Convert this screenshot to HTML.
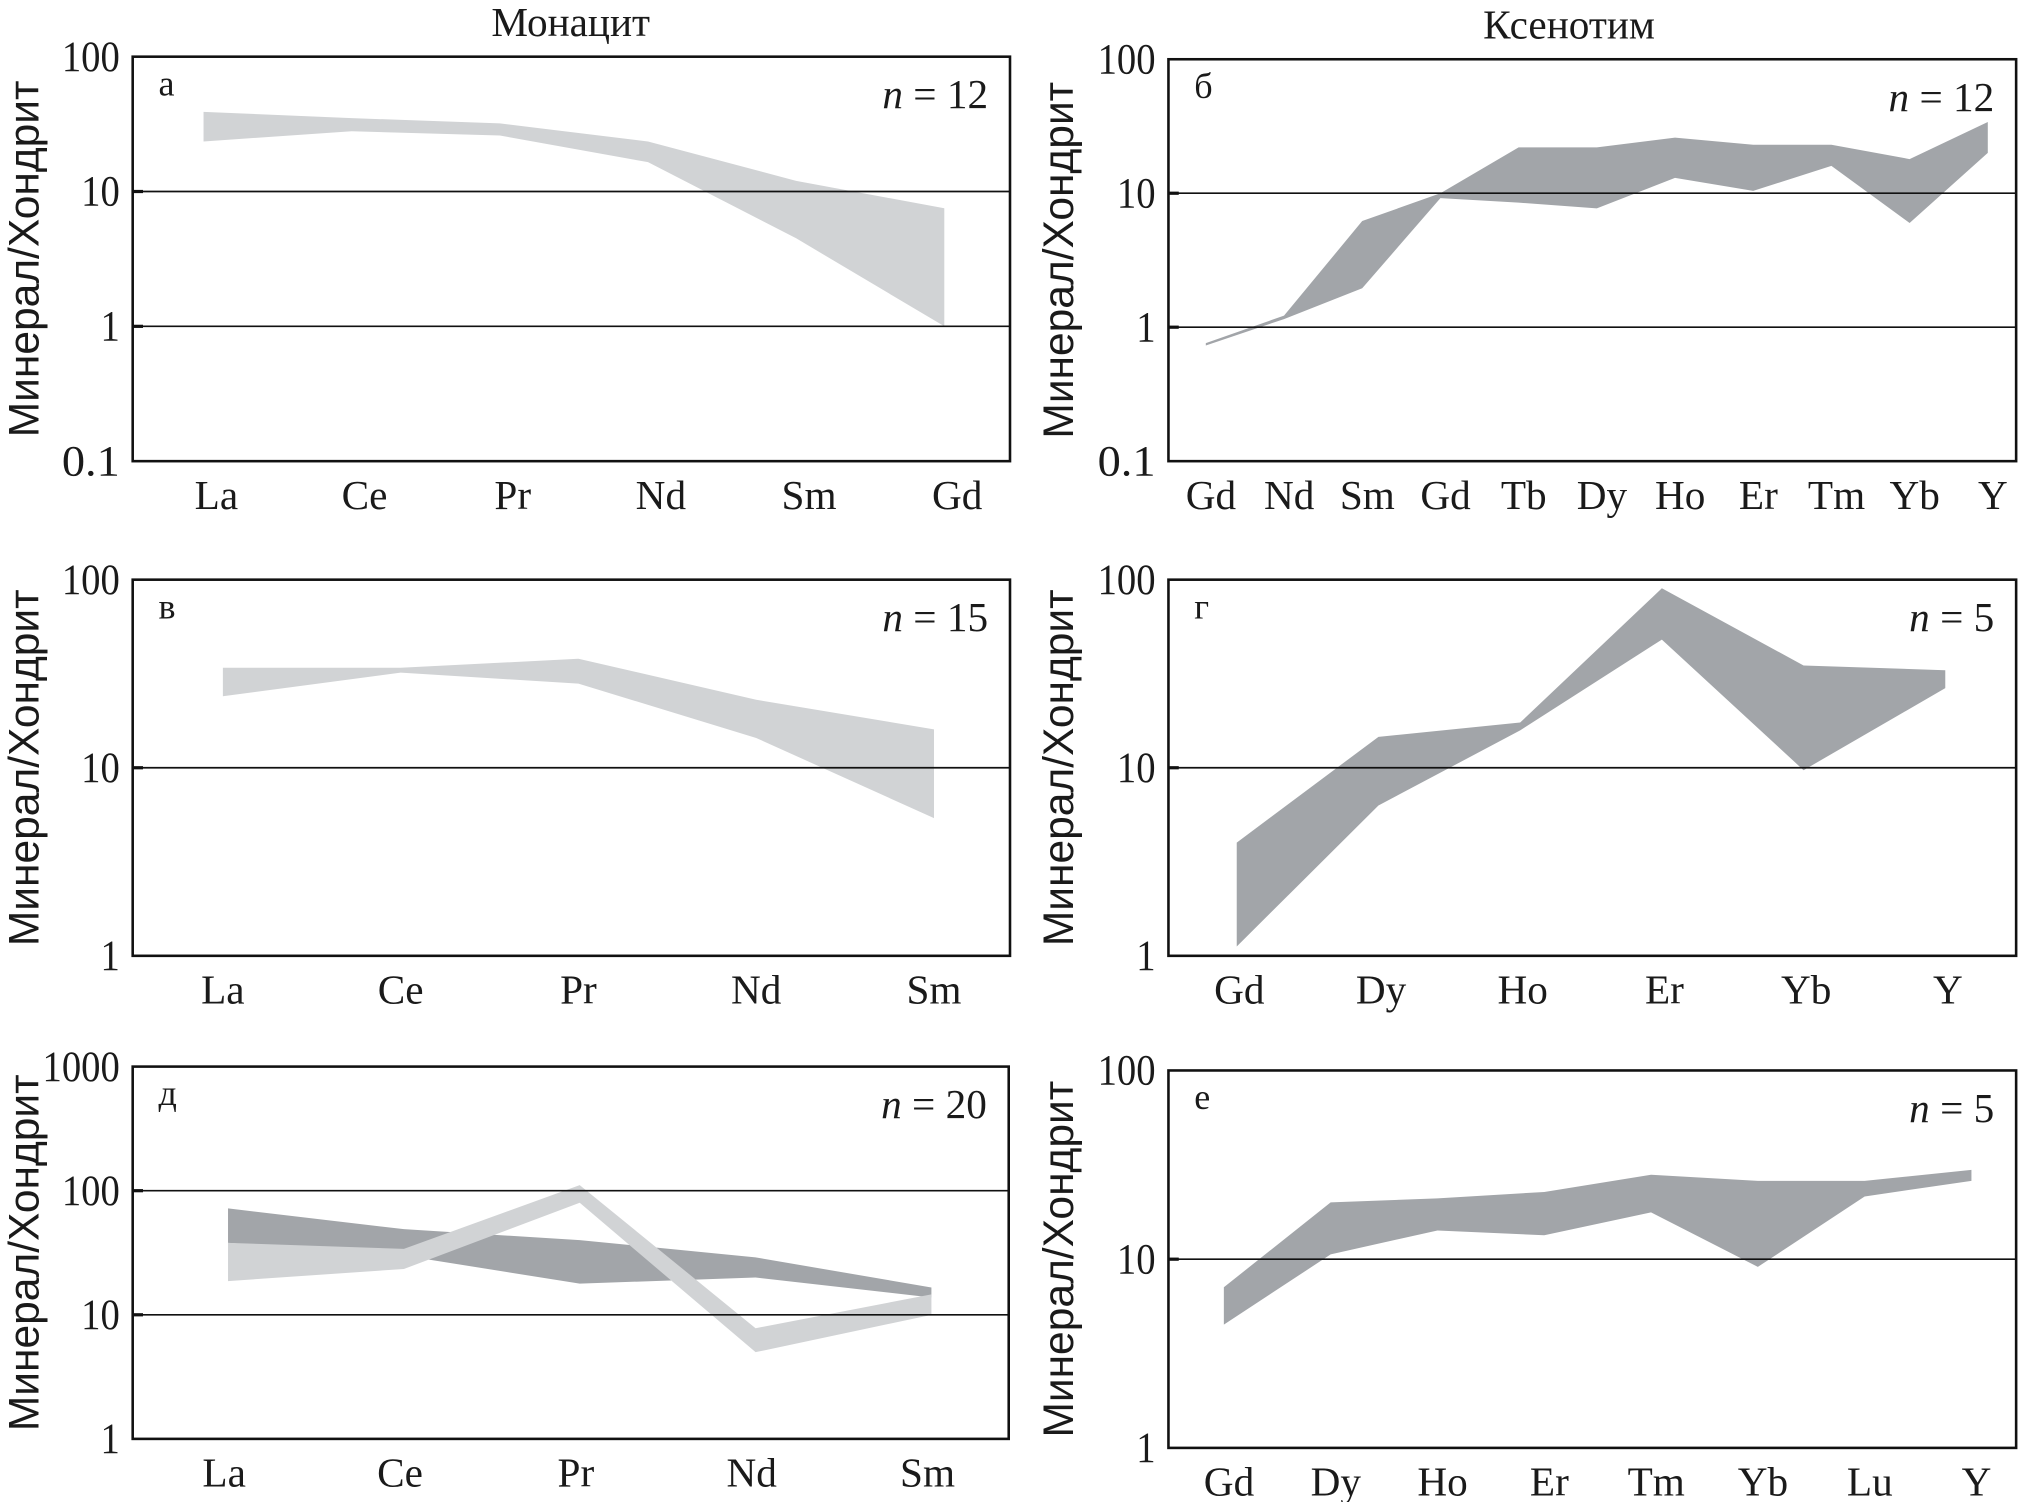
<!DOCTYPE html>
<html><head><meta charset="utf-8">
<style>
html,body{margin:0;padding:0;background:#fff;}
svg{display:block;}
text{font-family:"Liberation Serif","DejaVu Serif",serif;fill:#1a1a1a;}
.ytitle{font-family:"Liberation Sans","DejaVu Sans",sans-serif;}
</style></head>
<body>
<svg id="chart" width="2020" height="1502" viewBox="0 0 1568 1166" preserveAspectRatio="none" xmlns="http://www.w3.org/2000/svg">
<text x="443" y="28" font-size="32" text-anchor="middle">Монацит</text>
<text x="1218" y="30" font-size="32" text-anchor="middle">Ксенотим</text>
</svg>
<script>
// Panel а (monazite)
const catsA = ["La","Ce","Pr","Nd","Sm","Gd"];
const upperA = [39,35,32,23.5,12,7.5];
const lowerA = [23.5,28,26,16.5,4.5,1.0];
// Panel б (xenotime)
const catsB = ["Gd","Nd","Sm","Gd","Tb","Dy","Ho","Er","Tm","Yb","Y"];
const upperB = [0.76,1.22,6.2,10,22,22,26,23,23,18,34];
const lowerB = [0.73,1.15,1.95,9.2,8.5,7.7,13,10.4,16,6,20];
// Panel в (monazite)
const catsV = ["La","Ce","Pr","Nd","Sm"];
const upperV = [34,34,38,23,16];
const lowerV = [24,32,28,14.4,5.4];
// Panel г (xenotime)
const catsG = ["Gd","Dy","Ho","Er","Yb","Y"];
const upperG = [4.0,14.6,17.4,90,35,33];
const lowerG = [1.12,6.3,15.8,48,9.7,26.5];
// Panel д (monazite, two bands)
const catsD = ["La","Ce","Pr","Nd","Sm"];
const upperD1 = [72,49,40,29,16.6];
const lowerD1 = [38,30,17.8,20,13.8];
const upperD2 = [38,34,111,7.8,14.6];
const lowerD2 = [18.7,23.4,80,5.0,10];
// Panel е (xenotime)
const catsE = ["Gd","Dy","Ho","Er","Tm","Yb","Lu","Y"];
const upperE = [7.1,20,21,22.7,28,26,26,29.7];
const lowerE = [4.5,10.6,14.2,13.4,17.7,9.1,21.5,26];
// Y tick label sets
const ticksA = ["100","10","1","0.1"];
const ticksV = ["100","10","1"];
const ticksD = ["1000","100","10","1"];

const NS="http://www.w3.org/2000/svg";
const svg=document.getElementById('chart');
const LIGHT="#d1d3d5", DARK="#a2a5a9";
function mk(tag,attrs,parent){const e=document.createElementNS(NS,tag);for(const k in attrs)e.setAttribute(k,attrs[k]);(parent||svg).appendChild(e);return e;}

function panel(p){
  const g=mk('g',{});
  
  
  const maxLog=Math.log10(parseFloat(p.ticks[0]));
  const minLog=Math.log10(parseFloat(p.ticks[p.ticks.length-1]));
  const y=v=>p.top+(maxLog-Math.log10(v))/(maxLog-minLog)*(p.bottom-p.top);
  const x=i=>p.x0+i*p.dx;
  p.bands.forEach((b,bi)=>{
    let pts=b.up.map((v,i)=>x(i).toFixed(1)+','+y(v).toFixed(1));
    for(let i=b.lo.length-1;i>=0;i--)pts.push(x(i).toFixed(1)+','+y(b.lo[i]).toFixed(1));
    const poly=mk('polygon',{points:pts.join(' '),fill:b.color},g);
    
    
  });
  p.ticks.forEach((t,i)=>{
    const yy=y(parseFloat(t));
    if(i>0&&i<p.ticks.length-1){
      const l=mk('line',{x1:p.left,x2:p.right,y1:yy,y2:yy,stroke:'#111','stroke-width':1.3},g);
      
      
      mk('line',{x1:p.left,x2:p.left+8,y1:yy,y2:yy,stroke:'#111','stroke-width':2.5},g);
    }
    const tx=mk('text',{x:p.left-10,y:yy+11,'font-size':34,'text-anchor':'end',textLength:t.length*15,lengthAdjust:'spacingAndGlyphs'},g);
    tx.textContent=t;
    
    
  });
  const r=mk('rect',{x:p.left,y:p.top,width:p.right-p.left,height:p.bottom-p.top,fill:'none',stroke:'#111','stroke-width':2},g);
  
  
  p.cats.forEach((c,i)=>{
    const t=mk('text',{x:x(i)+p.lblOff,y:p.bottom+37,'font-size':32,'text-anchor':'middle'},g);
    t.textContent=c;
    
    
  });
  const lt=mk('text',{x:p.left+20,y:p.top+30,'font-size':28},g);
  lt.textContent=p.letter;
  
  
  const nt=mk('text',{x:p.right-17,y:p.top+40,'font-size':32,'text-anchor':'end'},g);
  const ni=mk('tspan',{'font-style':'italic'},nt);ni.textContent='n';
  const nr=mk('tspan',{},nt);nr.textContent=' = '+p.n;
  
  
  const cy=(p.top+p.bottom)/2;
  const yt=mk('text',{x:p.titleX,y:cy,'font-size':33,'text-anchor':'middle',transform:'rotate(-90 '+p.titleX+' '+cy+')','class':'ytitle'},g);
  yt.textContent='Минерал/Хондрит';
  
  
}

panel({name:'panel-a',left:103,right:784,top:44,bottom:358,ticks:ticksA,cats:catsA,x0:158,dx:115,lblOff:10,letter:'а',n:12,titleX:30,
  bands:[{up:upperA,lo:lowerA,color:LIGHT}]});
panel({name:'panel-b',left:907,right:1565,top:46,bottom:358,ticks:ticksA,cats:catsB,x0:936,dx:60.7,lblOff:4,letter:'б',n:12,titleX:833,
  bands:[{up:upperB,lo:lowerB,color:DARK}]});
panel({name:'panel-v',left:103,right:784,top:450,bottom:742,ticks:ticksV,cats:catsV,x0:173,dx:138,lblOff:0,letter:'в',n:15,titleX:30,
  bands:[{up:upperV,lo:lowerV,color:LIGHT}]});
panel({name:'panel-g',left:907,right:1565,top:450,bottom:742,ticks:ticksV,cats:catsG,x0:960,dx:110,lblOff:2,letter:'г',n:5,titleX:833,
  bands:[{up:upperG,lo:lowerG,color:DARK}]});
panel({name:'panel-d',left:103,right:783,top:828,bottom:1117,ticks:ticksD,cats:catsD,x0:177,dx:136.5,lblOff:-3,letter:'д',n:20,titleX:30,
  bands:[{up:upperD1,lo:lowerD1,color:DARK},{up:upperD2,lo:lowerD2,color:LIGHT}]});
panel({name:'panel-e',left:907,right:1565,top:831,bottom:1124,ticks:ticksV,cats:catsE,x0:950,dx:82.9,lblOff:4,letter:'е',n:5,titleX:833,
  bands:[{up:upperE,lo:lowerE,color:DARK}]});
</script>
</body></html>
